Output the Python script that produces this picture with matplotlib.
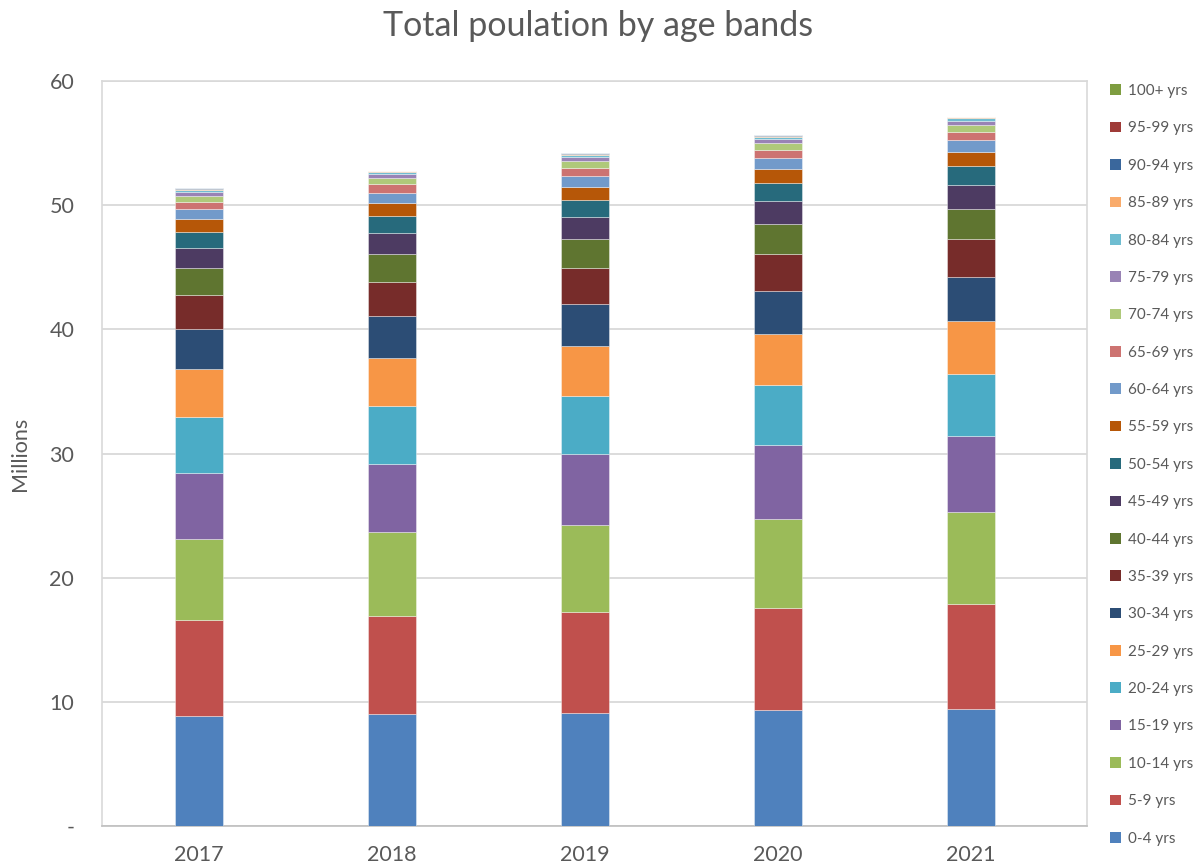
import matplotlib
matplotlib.use("Agg")
import matplotlib.pyplot as plt
from matplotlib.patches import Patch
import numpy as np

years = ["2017", "2018", "2019", "2020", "2021"]
bands = ["0-4 yrs", "5-9 yrs", "10-14 yrs", "15-19 yrs", "20-24 yrs", "25-29 yrs",
         "30-34 yrs", "35-39 yrs", "40-44 yrs", "45-49 yrs", "50-54 yrs", "55-59 yrs",
         "60-64 yrs", "65-69 yrs", "70-74 yrs", "75-79 yrs", "80-84 yrs", "85-89 yrs",
         "90-94 yrs", "95-99 yrs", "100+ yrs"]

# population in millions, one list per age band (2017..2021)
pop_0_4 = [8.88, 9.00, 9.12, 9.32, 9.42]
pop_5_9 = [7.68, 7.92, 8.11, 8.26, 8.48]
pop_10_14 = [6.55, 6.74, 6.98, 7.14, 7.36]
pop_15_19 = [5.34, 5.52, 5.72, 5.94, 6.12]
pop_20_24 = [4.49, 4.62, 4.72, 4.86, 5.02]
pop_25_29 = [3.84, 3.91, 4.03, 4.11, 4.24]
pop_30_34 = [3.25, 3.33, 3.38, 3.49, 3.54]
pop_35_39 = [2.71, 2.74, 2.85, 2.93, 3.08]
pop_40_44 = [2.17, 2.26, 2.34, 2.42, 2.42]
pop_45_49 = [1.61, 1.72, 1.77, 1.85, 1.96]
pop_50_54 = [1.29, 1.34, 1.39, 1.45, 1.51]
pop_55_59 = [1.05, 1.05, 1.07, 1.13, 1.15]
pop_60_64 = [0.81, 0.85, 0.89, 0.89, 0.92]
pop_65_69 = [0.61, 0.68, 0.64, 0.67, 0.69]
pop_70_74 = [0.48, 0.53, 0.54, 0.56, 0.54]
pop_75_79 = [0.30, 0.30, 0.30, 0.27, 0.35]
pop_80_84 = [0.16, 0.15, 0.19, 0.22, 0.19]
pop_85_89 = [0.10, 0.07, 0.09, 0.07, 0.08]
pop_90_94 = [0.05, 0.04, 0.05, 0.04, 0.04]
pop_95_99 = [0.015, 0.012, 0.015, 0.012, 0.012]
pop_100p = [0.002, 0.002, 0.003, 0.003, 0.003]

series = [pop_0_4, pop_5_9, pop_10_14, pop_15_19, pop_20_24, pop_25_29, pop_30_34,
          pop_35_39, pop_40_44, pop_45_49, pop_50_54, pop_55_59, pop_60_64, pop_65_69,
          pop_70_74, pop_75_79, pop_80_84, pop_85_89, pop_90_94, pop_95_99, pop_100p]

colors = ["#4F81BD", "#C0504D", "#9BBB59", "#8064A2", "#4BACC6", "#F79646",
          "#2C4D75", "#772C2A", "#5F7530", "#4D3B62", "#276A7C", "#B65708",
          "#729ACA", "#CD7371", "#AFC97A", "#9983B5", "#6FBDD1", "#F9AB6B",
          "#3A679C", "#9F3B38", "#7E9D40"]

text_col = "#595959"
plt.rcParams["font.family"] = ["Lato", "DejaVu Sans"]

fig = plt.figure(figsize=(11.97, 8.67), dpi=100)
ax = fig.add_axes([102 / 1197, 1 - 826 / 867, (1087 - 102) / 1197, (826 - 81) / 867])

x = np.arange(len(years))
bottom = np.zeros(len(years))
for vals, col, lab in zip(series, colors, bands):
    ax.bar(x, vals, width=0.249, bottom=bottom, color=col, label=lab,
           edgecolor=(1, 1, 1, 0.45), linewidth=0.6, zorder=3)
    bottom += np.array(vals)

ax.set_xlim(-0.503, len(years) - 0.399)
ax.set_ylim(0, 60)
ax.set_yticks(range(0, 61, 10))
ax.set_yticklabels(["-"] + [str(v) for v in range(10, 61, 10)])
ax.set_xticks(x)
ax.set_xticklabels(years)
ax.tick_params(axis="both", length=0, colors=text_col, labelsize=15.5)
ax.tick_params(axis="y", pad=20)
ax.tick_params(axis="x", pad=14)
ax.grid(axis="y", color="#D9D9D9", linewidth=1.3, zorder=0)
for s in ax.spines.values():
    s.set_color("#D9D9D9")
    s.set_linewidth(1.2)
ax.spines["bottom"].set_color("#BFBFBF")

ax.set_ylabel("Millions", color=text_col, fontsize=15.5, labelpad=14)
fig.suptitle("Total poulation by age bands", color=text_col, fontsize=24.5,
             y=1 - 10 / 867, va="top")

handles = [Patch(facecolor=c, edgecolor="none") for c in colors][::-1]
fig.legend(handles, bands[::-1], loc="upper left",
           bbox_to_anchor=(1104 / 1197, 1 - 78 / 867), frameon=False,
           fontsize=11, labelcolor=text_col, handlelength=0.7, handleheight=0.7,
           handletextpad=0.5, labelspacing=1.53, borderaxespad=0)

fig.savefig("out.png", dpi=100)
